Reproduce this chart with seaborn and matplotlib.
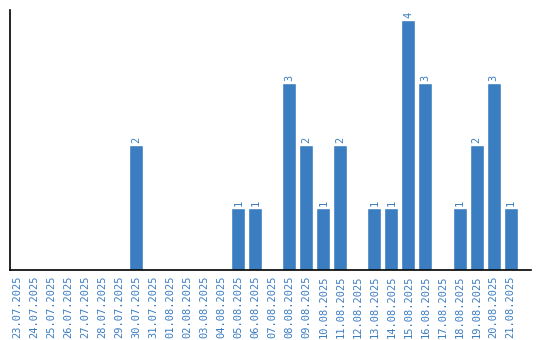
import matplotlib
matplotlib.use("Agg")
import matplotlib.pyplot as plt
import seaborn as sns
import pandas as pd

dates = ["23.07.2025", "24.07.2025", "25.07.2025", "26.07.2025", "27.07.2025",
         "28.07.2025", "29.07.2025", "30.07.2025", "31.07.2025", "01.08.2025",
         "02.08.2025", "03.08.2025", "04.08.2025", "05.08.2025", "06.08.2025",
         "07.08.2025", "08.08.2025", "09.08.2025", "10.08.2025", "11.08.2025",
         "12.08.2025", "13.08.2025", "14.08.2025", "15.08.2025", "16.08.2025",
         "17.08.2025", "18.08.2025", "19.08.2025", "20.08.2025", "21.08.2025"]
counts = [0, 0, 0, 0, 0, 0, 0, 2, 0, 0,
          0, 0, 0, 1, 1, 0, 3, 2, 1, 2,
          0, 1, 1, 4, 3, 0, 1, 2, 3, 1]

color = "#3b7dc1"
df = pd.DataFrame({"date": dates, "count": counts})

sns.set_style("white")
fig = plt.figure(figsize=(5.4, 3.4), dpi=100)
ax = fig.add_axes([10/540, 1 - 270/340, 521/540, 260/340])
sns.barplot(data=df, x="date", y="count", color=color, saturation=1,
            width=14/17, ax=ax)
ax.set_xlim(-0.41, 30.2)
ax.set_ylim(0, 4.16)
ax.set_xlabel("")
ax.set_ylabel("")
ax.set_yticks([])
for s in ["top", "right"]:
    ax.spines[s].set_visible(False)
for s in ["left", "bottom"]:
    ax.spines[s].set_color("black")
    ax.spines[s].set_linewidth(1.2)
ax.tick_params(axis="x", length=0, pad=4, labelsize=7.5, labelcolor=color,
               rotation=90)
for lbl in ax.get_xticklabels():
    lbl.set_fontfamily("DejaVu Sans Mono")
for i, v in enumerate(counts):
    if v > 0:
        ax.text(i, v + 0.03, str(v), rotation=90, ha="center", va="bottom",
                fontsize=7.5, color=color, fontfamily="DejaVu Sans Mono")
fig.savefig("out.png", dpi=100)
